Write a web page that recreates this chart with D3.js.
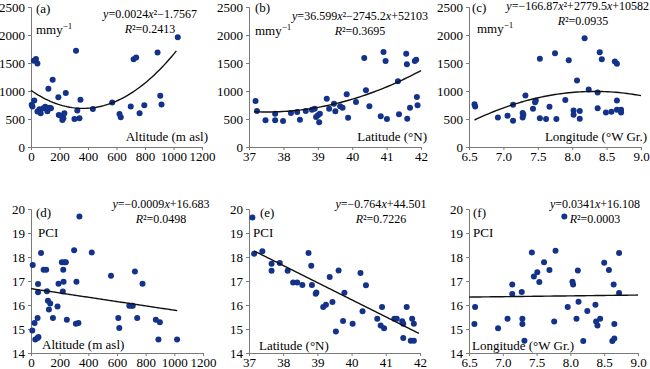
<!DOCTYPE html>
<html>
<head>
<meta charset="utf-8">
<script src="https://cdnjs.cloudflare.com/ajax/libs/d3/7.8.5/d3.min.js"></script>
<style>
  body { margin: 0; background: #fff; }
  svg { display: block; }
  svg text { font-family: "Liberation Serif", "Times New Roman", serif; }
</style>
</head>
<body>
<div id="chart"></div>
<script>
// ---- data ----
// rainfall (mm/y) against altitude (m asl)
const rainAltitude = [[5,753],[10,723],[23,831],[20,1540],[35,1570],[45,1490],[45,632],[59,675],[68,602],[87,693],
  [100,720],[115,640],[130,700],[140,690],[122,1040],[152,1200],[192,890],[195,572],[210,560],[244,964],
  [227,512],[234,602],[220,482],[316,1717],[305,500],[325,650],[340,512],[347,843],[434,680],[570,795],
  [621,590],[630,530],[700,723],[720,1566],[738,1596],[762,602],[795,747],[888,1687],[907,916],[916,759],[1030,1958]];
// rainfall against latitude (°N)
const rainLatitude = [[37.19,821],[37.23,643],[37.48,476],[37.76,595],[37.76,476],[37.99,464],[38.22,607],[38.40,625],
  [38.48,488],[38.65,643],[38.83,667],[38.91,685],[38.95,536],[39.00,565],[39.06,595],[39.04,440],[39.26,863],
  [39.33,685],[39.47,774],[39.51,637],[39.65,726],[39.72,702],[39.84,940],[39.88,524],[40.11,804],[40.35,1589],
  [40.40,1012],[40.50,726],[40.83,548],[40.91,1696],[40.97,1536],[41.01,500],[41.33,1173],[41.36,583],[41.57,1667],
  [41.59,1476],[41.60,506],[41.68,702],[41.82,1536],[41.86,1560],[41.88,893],[41.90,744]];
// rainfall against longitude (°W Gr.)
const rainLongitude = [[6.58,765],[6.59,724],[6.92,529],[7.06,559],[7.14,753],[7.14,470],[7.28,606],[7.28,529],
  [7.29,576],[7.32,918],[7.43,682],[7.46,800],[7.47,829],[7.53,1576],[7.53,512],[7.62,500],[7.67,718],[7.75,1676],
  [7.77,500],[7.90,841],[7.95,1547],[8.02,653],[8.02,576],[8.07,1188],[8.11,641],[8.11,506],[8.18,1941],[8.24,1029],
  [8.37,971],[8.37,694],[8.40,1694],[8.43,1565],[8.49,618],[8.57,629],[8.62,1529],[8.65,1488],[8.65,829],[8.65,665],
  [8.71,665],[8.71,618]];
// PCI against altitude
const pciAltitude = [[9,14.94],[12,17.67],[25,15.25],[30,14.56],[46,14.63],[46,15.46],[52,14.67],[49,16.88],[49,16.53],
  [70,18.17],[88,17.47],[106,17.47],[111,16.57],[118,16.18],[125,15.81],[134,16.06],[153,15.46],[185,15.94],[192,16.89],
  [215,17.78],[225,17.47],[222,16.56],[227,16.97],[234,17.78],[243,17.78],[250,15.39],[301,18.28],[313,15.22],
  [317,16.97],[331,15.25],[338,19.69],[424,18.19],[558,17.22],[609,15.46],[616,15.04],[686,15.97],[702,15.97],
  [710,15.97],[725,17.40],[741,15.46],[778,16.89],[871,15.39],[889,14.56],[899,15.28],[1019,14.56]];
// PCI against latitude
const pciLatitude = [[37.10,19.65],[37.15,18.14],[37.39,18.24],[37.66,17.72],[37.66,17.43],[37.90,17.75],[38.13,17.43],
  [38.29,16.94],[38.41,16.94],[38.56,16.83],[38.74,18.17],[38.82,17.64],[38.84,16.83],[38.95,16.47],[38.97,16.52],
  [39.17,15.92],[39.25,16.01],[39.36,17.17],[39.44,16.13],[39.54,14.90],[39.62,17.44],[39.75,15.33],[39.79,16.51],
  [40.03,15.22],[40.26,17.33],[40.32,15.74],[40.42,16.82],[40.75,15.43],[40.85,15.15],[40.89,15.92],[40.95,15.03],
  [41.25,15.43],[41.32,15.43],[41.48,15.32],[41.51,15.22],[41.51,14.63],[41.61,15.92],[41.77,15.43],[41.73,14.51],
  [41.82,14.51],[41.82,15.22]];
// PCI against longitude
const pciLongitude = [[6.58,15.21],[6.59,15.92],[6.93,15.03],[7.07,15.43],[7.14,16.85],[7.14,16.46],[7.28,16.54],
  [7.29,15.43],[7.29,15.21],[7.32,14.51],[7.43,18.19],[7.46,17.19],[7.51,17.36],[7.54,16.96],[7.61,17.78],[7.69,17.46],
  [7.76,15.31],[7.78,18.26],[7.91,19.69],[7.96,15.92],[8.03,16.97],[8.04,16.85],[8.09,15.43],[8.11,17.44],[8.12,16.14],
  [8.19,14.50],[8.25,15.75],[8.37,16.01],[8.38,15.31],[8.40,15.15],[8.44,15.43],[8.50,17.76],[8.57,17.46],[8.62,14.50],
  [8.64,16.85],[8.65,15.21],[8.65,14.60],[8.72,18.17],[8.72,16.50]];

// fitted trend lines: [a, b, c] for a*x^2 + b*x + c, and x extent
const fitCoefs = {
  a: [0.0024, -1.7567, 1011], b: [36.599, -2745.2, 52103], c: [-166.87, 2779.5, -10582],
  d: [0, -0.0009, 16.683], e: [0, -0.714, 44.78], f: [0, 0.0341, 16.108]
};
const fitExtent = { a: [0, 1020], b: [37.15, 42], c: [6.58, 9.0], d: [0, 1020], e: [37.15, 41.97], f: [6.5, 9.0] };
const equations = {
  a: ["y=0.0024x²−1.7567", "R²=0.2413"], b: ["y=36.599x²−2745.2x+52103", "R²=0.3695"],
  c: ["y=−166.87x²+2779.5x+10582", "R²=0.0935"], d: ["y=−0.0009x+16.683", "R²=0.0498"],
  e: ["y=−0.764x+44.501", "R²=0.7226"], f: ["y=0.0341x+16.108", "R²=0.0003"]
};

const altTicks = [0, 200, 400, 600, 800, 1000, 1200];
const latTicks = [37, 38, 39, 40, 41, 42];
const lonTicks = [6.5, 7.0, 7.5, 8.0, 8.5, 9.0];
const rainTicks = [0, 500, 1000, 1500, 2000, 2500];
const pciTicks = [14, 15, 16, 17, 18, 19, 20];

const W = 650, H = 369;
const DOT = "#13328a";
const FONT = "'Liberation Serif', 'Times New Roman', serif";

const svg = d3.select("#chart").append("svg").attr("width", W).attr("height", H);

// writes text with italic y/x/R
function richText(sel, str) {
  const parts = str.split(/([xyR])/).filter(s => s.length);
  parts.forEach(p => {
    const t = sel.append("tspan").text(p);
    if (/^[xyR]$/.test(p)) t.attr("font-style", "italic");
  });
}

function panel(cfg) {
  const x = d3.scaleLinear().domain(cfg.xDomain).range([cfg.left, cfg.right]);
  const y = d3.scaleLinear().domain(cfg.yDomain).range([cfg.bottom, cfg.top]);
  const g = svg.append("g");

  const xa = g.append("g").attr("transform", `translate(0,${cfg.bottom})`)
    .call(d3.axisBottom(x).tickValues(cfg.xTicks).tickSize(3).tickPadding(2).tickFormat(d3.format(cfg.xFmt)));
  const ya = g.append("g").attr("transform", `translate(${cfg.left},0)`)
    .call(d3.axisLeft(y).tickValues(cfg.yTicks).tickSize(3).tickPadding(3).tickFormat(d3.format("d")));
  [xa, ya].forEach(a => {
    a.attr("font-family", FONT).attr("font-size", 13);
    a.selectAll("path, line").attr("stroke", "#7a7a7a");
    a.selectAll("text").attr("fill", "#000");
  });

  g.append("g").selectAll("circle").data(cfg.pts).join("circle")
    .attr("cx", d => x(d[0])).attr("cy", d => y(d[1])).attr("r", 3).attr("fill", DOT);

  const c = fitCoefs[cfg.key], ext = fitExtent[cfg.key];
  const xs = d3.range(0, 61).map(i => ext[0] + (ext[1] - ext[0]) * i / 60);
  g.append("path")
    .attr("d", d3.line().x(v => x(v)).y(v => y(c[0] * v * v + c[1] * v + c[2]))(xs))
    .attr("fill", "none").attr("stroke", "#111").attr("stroke-width", 1.4);

  const t = (px, py, anchor, size) => g.append("text").attr("x", px).attr("y", py)
    .attr("text-anchor", anchor).attr("font-size", size).attr("font-family", FONT).attr("fill", "#000");

  t(cfg.tagPos[0], cfg.tagPos[1], "start", 13).text(`(${cfg.key})`);
  const u = t(cfg.unitPos[0], cfg.unitPos[1], "start", 13).text(cfg.unit);
  if (cfg.unit === "mmy") u.append("tspan").attr("dy", -5).attr("font-size", 9).text("−1");
  const eq = equations[cfg.key];
  richText(t(cfg.eqPos[0], cfg.eqPos[1], cfg.eqAnchor || "middle", 12), eq[0]);
  richText(t(cfg.r2Pos ? cfg.r2Pos[0] : cfg.eqPos[0], cfg.r2Pos ? cfg.r2Pos[1] : cfg.eqPos[1] + 15, "middle", 12), eq[1]);
  t(cfg.xlPos[0], cfg.xlPos[1], cfg.xlAnchor, 13).text(cfg.xLabel);
}

const topRow = { top: 7, bottom: 147, yDomain: [0, 2500], yTicks: rainTicks, unit: "mmy" };
const botRow = { top: 209, bottom: 353, yDomain: [14, 20], yTicks: pciTicks, unit: "PCI" };

panel({ ...topRow, key: "a", pts: rainAltitude, left: 31, right: 202, xDomain: [0, 1200], xTicks: altTicks, xFmt: "d",
  tagPos: [36, 13], unitPos: [36, 34], eqPos: [150, 18], xLabel: "Altitude (m asl)", xlPos: [208, 141], xlAnchor: "end" });
panel({ ...topRow, key: "b", pts: rainLatitude, left: 249, right: 421, xDomain: [37, 42], xTicks: latTicks, xFmt: "d",
  tagPos: [255, 12], unitPos: [255, 35], eqPos: [360, 20], xLabel: "Latitude (°N)", xlPos: [427, 141], xlAnchor: "end" });
panel({ ...topRow, key: "c", pts: rainLongitude, left: 469, right: 641, xDomain: [6.5, 9.0], xTicks: lonTicks, xFmt: ".1f",
  tagPos: [472, 12], unitPos: [477, 33], eqPos: [649, 10], eqAnchor: "end", r2Pos: [583, 25],
  xLabel: "Longitude (°W Gr.)", xlPos: [647, 141], xlAnchor: "end" });
panel({ ...botRow, key: "d", pts: pciAltitude, left: 31, right: 203, xDomain: [0, 1200], xTicks: altTicks, xFmt: "d",
  tagPos: [36, 217], unitPos: [38, 237], eqPos: [161, 208], xLabel: "Altitude (m asl)", xlPos: [42, 349], xlAnchor: "start" });
panel({ ...botRow, key: "e", pts: pciLatitude, left: 249, right: 420, xDomain: [37, 42], xTicks: latTicks, xFmt: "d",
  tagPos: [260, 217], unitPos: [253, 237], eqPos: [381, 208], xLabel: "Latitude (°N)", xlPos: [259, 350], xlAnchor: "start" });
panel({ ...botRow, key: "f", pts: pciLongitude, left: 469, right: 638, xDomain: [6.5, 9.0], xTicks: lonTicks, xFmt: ".1f",
  tagPos: [473, 217], unitPos: [473, 237], eqPos: [595, 208], xLabel: "Longitude (°W Gr.)", xlPos: [472, 350], xlAnchor: "start" });
</script>
</body>
</html>
